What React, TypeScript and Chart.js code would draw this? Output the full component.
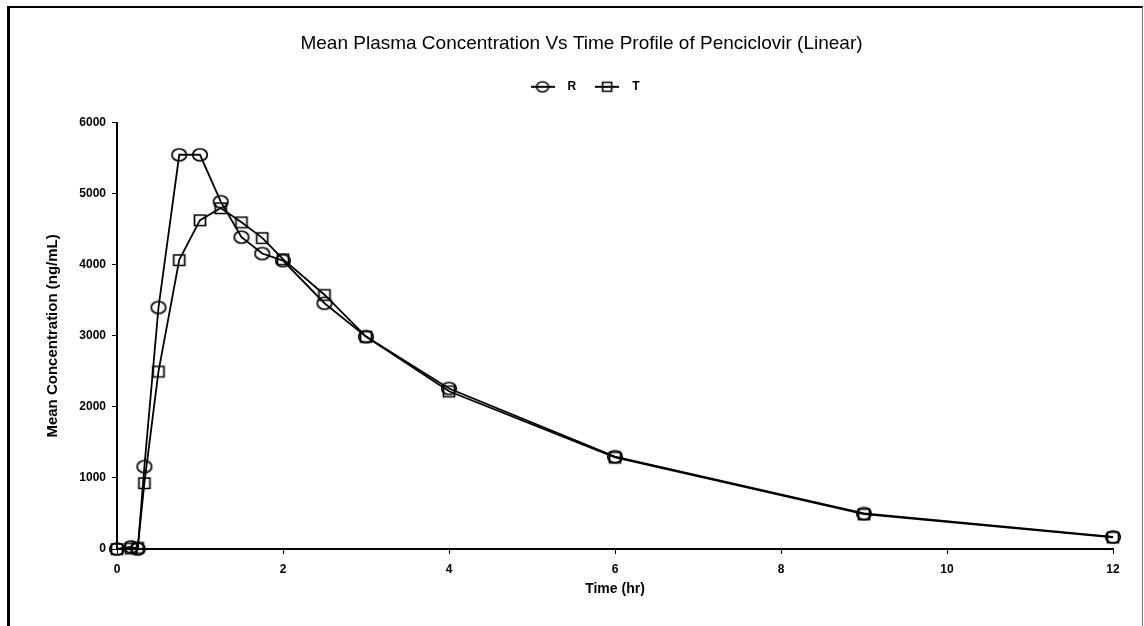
import React, { useEffect, useRef } from "react";
import { Chart, registerables } from "chart.js";

Chart.register(...registerables);

const titleText = "Mean Plasma Concentration Vs Time Profile of Penciclovir (Linear)";
const seriesNames = ["R", "T"];
const timeHr = [0, 0.17, 0.25, 0.33, 0.5, 0.75, 1, 1.25, 1.5, 1.75, 2, 2.5, 3, 4, 6, 9, 12];
const concR = [0, 30, 0, 1160, 3400, 5550, 5550, 4890, 4390, 4160, 4060, 3460, 2990, 2260, 1300, 500, 170];
const concT = [0, 10, 20, 930, 2500, 4070, 4630, 4800, 4600, 4380, 4080, 3580, 2990, 2220, 1290, 490, 165];
const xTicks = [0, 2, 4, 6, 8, 10, 12];
const yTicks = [0, 1000, 2000, 3000, 4000, 5000, 6000];
const xTitle = "Time (hr)";
const yTitle = "Mean Concentration (ng/mL)";

const FONT = "'Liberation Sans', Arial, Helvetica, sans-serif";

function makeMarker(kind: "ellipse" | "rect"): HTMLCanvasElement {
  const c = document.createElement("canvas");
  c.width = 18;
  c.height = 16;
  const ctx = c.getContext("2d")!;
  ctx.strokeStyle = "#000";
  ctx.lineWidth = 1.7;
  ctx.beginPath();
  if (kind === "ellipse") {
    ctx.ellipse(9, 8, 7.3, 6, 0, 0, Math.PI * 2);
  } else {
    ctx.rect(3.5, 3, 11, 10.5);
  }
  ctx.stroke();
  return c;
}

function makeIcon(kind: "ellipse" | "rect"): HTMLCanvasElement {
  const c = document.createElement("canvas");
  c.width = 24;
  c.height = 14;
  const ctx = c.getContext("2d")!;
  ctx.strokeStyle = "#000";
  ctx.lineWidth = 2;
  ctx.beginPath();
  ctx.moveTo(0, 7);
  ctx.lineTo(24, 7);
  ctx.stroke();
  ctx.lineWidth = 1.6;
  ctx.beginPath();
  if (kind === "ellipse") {
    ctx.ellipse(12, 7, 6, 5, 0, 0, Math.PI * 2);
  } else {
    ctx.rect(7.5, 2.5, 9, 9);
  }
  ctx.stroke();
  return c;
}

export default function App() {
  const ref = useRef<HTMLCanvasElement | null>(null);

  useEffect(() => {
    if (!ref.current) return;
    const icons = [makeIcon("ellipse"), makeIcon("rect")];
    const markers = [makeMarker("ellipse"), makeMarker("rect")];
    const toPts = (ys: number[]) => timeHr.map((t, i) => ({ x: t, y: ys[i] }));
    const plain = (v: any) => String(v);
    const chart = new Chart(ref.current, {
      type: "line",
      data: {
        datasets: [
          {
            label: seriesNames[0],
            data: toPts(concR),
            borderColor: "#000",
            borderWidth: 1.8,
            pointStyle: markers[0],
            pointRadius: 7,
            pointBorderColor: "#000",
            pointBackgroundColor: "rgba(0,0,0,0)",
            tension: 0,
            clip: false,
          },
          {
            label: seriesNames[1],
            data: toPts(concT),
            borderColor: "#000",
            borderWidth: 1.8,
            pointStyle: markers[1],
            pointRadius: 7,
            pointBorderColor: "#000",
            pointBackgroundColor: "rgba(0,0,0,0)",
            tension: 0,
            clip: false,
          },
        ],
      },
      options: {
        animation: false,
        responsive: true,
        maintainAspectRatio: false,
        color: "#000",
        layout: { padding: { left: 40, right: 29, top: 0, bottom: 0 } },
        plugins: {
          title: {
            display: true,
            text: titleText,
            color: "#000",
            font: { family: FONT, size: 19, weight: "normal" },
            padding: { top: 24, bottom: 14 },
          },
          legend: {
            display: true,
            position: "top",
            labels: {
              usePointStyle: true,
              pointStyleWidth: 38,
              padding: 12,
              color: "#000",
              font: { family: FONT, size: 12, weight: "bold" },
              generateLabels: (ch: any) => {
                const items = (Chart.defaults.plugins.legend.labels as any).generateLabels(ch);
                return items.map((it: any, i: number) => ({ ...it, pointStyle: icons[i], fontColor: "#000" }));
              },
            },
          },
          tooltip: { enabled: false },
        },
        scales: {
          x: {
            type: "linear",
            position: "bottom",
            min: xTicks[0],
            max: xTicks[xTicks.length - 1],
            afterBuildTicks: (s: any) => {
              s.ticks = xTicks.map((v) => ({ value: v }));
            },
            ticks: {
              color: "#000",
              padding: 8,
              font: { family: FONT, size: 12, weight: "bold" },
              callback: plain,
            },
            grid: {
              display: true,
              drawOnChartArea: false,
              drawTicks: true,
              tickLength: 5,
              color: "#000",
              lineWidth: 1,
            },
            border: { display: true, color: "#000", width: 2 },
            title: {
              display: true,
              text: xTitle,
              color: "#000",
              font: { family: FONT, size: 14, weight: "bold" },
              padding: { top: 0, bottom: 28 },
            },
            afterFit: (s: any) => {
              s.height = 77;
            },
          },
          xTop: {
            type: "linear",
            position: "top",
            display: true,
            grid: { display: false },
            border: { display: false },
            ticks: { display: false },
            afterFit: (s: any) => {
              s.height = 20;
            },
          },
          y: {
            type: "linear",
            min: yTicks[0],
            max: yTicks[yTicks.length - 1],
            afterBuildTicks: (s: any) => {
              s.ticks = yTicks.map((v) => ({ value: v }));
            },
            ticks: {
              color: "#000",
              padding: 6,
              font: { family: FONT, size: 12, weight: "bold" },
              callback: plain,
            },
            grid: {
              display: true,
              drawOnChartArea: false,
              drawTicks: true,
              tickLength: 5,
              color: "#000",
              lineWidth: 1,
            },
            border: { display: true, color: "#000", width: 2 },
            title: {
              display: true,
              text: yTitle,
              color: "#000",
              font: { family: FONT, size: 15, weight: "bold" },
              padding: { top: -6, bottom: 0 },
            },
            afterFit: (s: any) => {
              s.width = 67;
            },
          },
        },
      } as any,
    });
    return () => chart.destroy();
  }, []);

  return (
    <div
      style={{
        position: "fixed",
        left: 7,
        top: 6,
        width: 1136,
        height: 620,
        boxSizing: "border-box",
        borderTop: "2px solid #000",
        borderLeft: "3px solid #000",
        borderRight: "1px solid #777",
        background: "#fff",
        overflow: "hidden",
      }}
    >
      <div style={{ position: "relative", width: 1132, height: 618 }}>
        <canvas ref={ref} />
      </div>
    </div>
  );
}
